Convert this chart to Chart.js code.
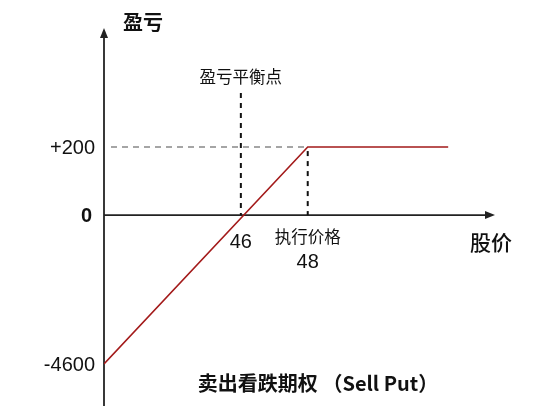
<!DOCTYPE html>
<html><head><meta charset="utf-8">
<script src="https://cdn.jsdelivr.net/npm/chart.js@4.4.0/dist/chart.umd.min.js"></script>
<style>html,body{margin:0;padding:0;background:#fff}#wrap{width:551px;height:418px}</style>
</head><body><div id="wrap"><canvas id="c"></canvas></div>
<script>
// ---- data ----
const prices = [0, 48, 52.2];          // stock price at line vertices
const payoff = [-4600, 200, 200];      // profit / loss
const breakEven = 46;
const strike = 48;
const yTickLabels = ['+200', '0', '-4600'];
const yTickValues = [200, 0, -4600];
const yTitle = '盈亏';
const xTitle = '股价';
const breakEvenLabel = '盈亏平衡点';
const strikeLabel = '执行价格';
const chartTitle = '卖出看跌期权 （Sell Put）';

// piecewise (schematic) scale: knots of value -> fraction of axis length
class BrokenScale extends Chart.LinearScale {
  static id = 'broken';
  static defaults = Chart.LinearScale.defaults;
  _frac(v){
    const k = this.options.knots;
    let i = 0;
    while (i < k.length - 2 && v > k[i+1][0]) i++;
    const [v0,f0] = k[i], [v1,f1] = k[i+1];
    return f0 + (v - v0) / (v1 - v0) * (f1 - f0);
  }
  getPixelForValue(v){
    const f = this._frac(v);
    return this.isHorizontal() ? this.left + f * this.width : this.bottom - f * this.height;
  }
}
Chart.register(BrokenScale);

const CJK = '"Noto Sans CJK SC", "Noto Sans", sans-serif';
const LAT = '"Liberation Sans", Arial, sans-serif';

const deco = {
  id: 'deco',
  beforeDatasetsDraw(chart){
    const ctx = chart.ctx, xs = chart.scales.x, ys = chart.scales.y, a = chart.chartArea;
    const x0 = xs.getPixelForValue(0), y0 = ys.getPixelForValue(0);
    ctx.save();
    // axes
    ctx.strokeStyle = '#222'; ctx.lineWidth = 1.8; ctx.setLineDash([]);
    ctx.beginPath(); ctx.moveTo(x0, a.bottom); ctx.lineTo(x0, a.top + 8); ctx.stroke();
    ctx.beginPath(); ctx.moveTo(x0, y0); ctx.lineTo(a.right - 8, y0); ctx.stroke();
    ctx.fillStyle = '#222';
    ctx.beginPath(); ctx.moveTo(x0, a.top); ctx.lineTo(x0 - 4, a.top + 10); ctx.lineTo(x0 + 4, a.top + 10); ctx.closePath(); ctx.fill();
    ctx.beginPath(); ctx.moveTo(a.right, y0); ctx.lineTo(a.right - 10, y0 - 4); ctx.lineTo(a.right - 10, y0 + 4); ctx.closePath(); ctx.fill();
    // dashed guides
    const yP = ys.getPixelForValue(payoff[1]);
    const xS = xs.getPixelForValue(strike), xB = xs.getPixelForValue(breakEven);
    ctx.strokeStyle = '#888'; ctx.lineWidth = 1.6; ctx.setLineDash([6,5]);
    ctx.beginPath(); ctx.moveTo(x0 + 7, yP); ctx.lineTo(xS, yP); ctx.stroke();
    ctx.strokeStyle = '#111'; ctx.lineWidth = 2; ctx.setLineDash([5,5]);
    ctx.beginPath(); ctx.moveTo(xB, 93); ctx.lineTo(xB, y0); ctx.stroke();
    ctx.beginPath(); ctx.moveTo(xS, yP + 4); ctx.lineTo(xS, y0); ctx.stroke();
    ctx.setLineDash([]);
    // texts
    ctx.fillStyle = '#111'; ctx.textBaseline = 'middle';
    ctx.textAlign = 'right';
    yTickValues.forEach((v, i) => {
      ctx.font = (v === 0 ? 'bold 20px ' : '20px ') + LAT;
      ctx.fillText(yTickLabels[i], v === 0 ? 92 : 95, ys.getPixelForValue(v) + 1);
    });
    ctx.textAlign = 'center';
    ctx.font = 'bold 20px ' + CJK; ctx.fillText(yTitle, 143, 22);
    ctx.font = '16.5px ' + CJK; ctx.fillText(breakEvenLabel, xB, 77);
    ctx.font = '20px ' + LAT; ctx.fillText(String(breakEven), xB, 242);
    ctx.font = '16.5px ' + CJK; ctx.fillText(strikeLabel, xS, 237);
    ctx.font = '20px ' + LAT; ctx.fillText(String(strike), xS, 262);
    ctx.font = '500 21px ' + CJK; ctx.fillText(xTitle, 491, 242);
    ctx.font = 'bold 20px ' + CJK; ctx.fillText(chartTitle, 318, 383);
    ctx.restore();
  }
};

new Chart(document.getElementById('c'), {
  type: 'line',
  data: {
    datasets: [{
      data: prices.map((p, i) => ({x: p, y: payoff[i]})),
      borderColor: '#a31a1a', borderWidth: 1.6, pointRadius: 0, tension: 0
    }]
  },
  options: {
    responsive: true, maintainAspectRatio: false, animation: false,
    layout: {padding: {left: 104, right: 56, top: 28, bottom: 12}},
    plugins: {legend: {display: false}, tooltip: {enabled: false}},
    scales: {
      x: {type: 'broken', display: false, min: 0, max: 53.6, knots: [[0,0],[46,0.350],[53.6,1]]},
      y: {type: 'broken', display: false, min: -5900, max: 550, knots: [[-5900,0],[-4600,0.111],[0,0.505],[200,0.685],[550,1]]}
    }
  },
  plugins: [deco]
});
</script></body></html>
